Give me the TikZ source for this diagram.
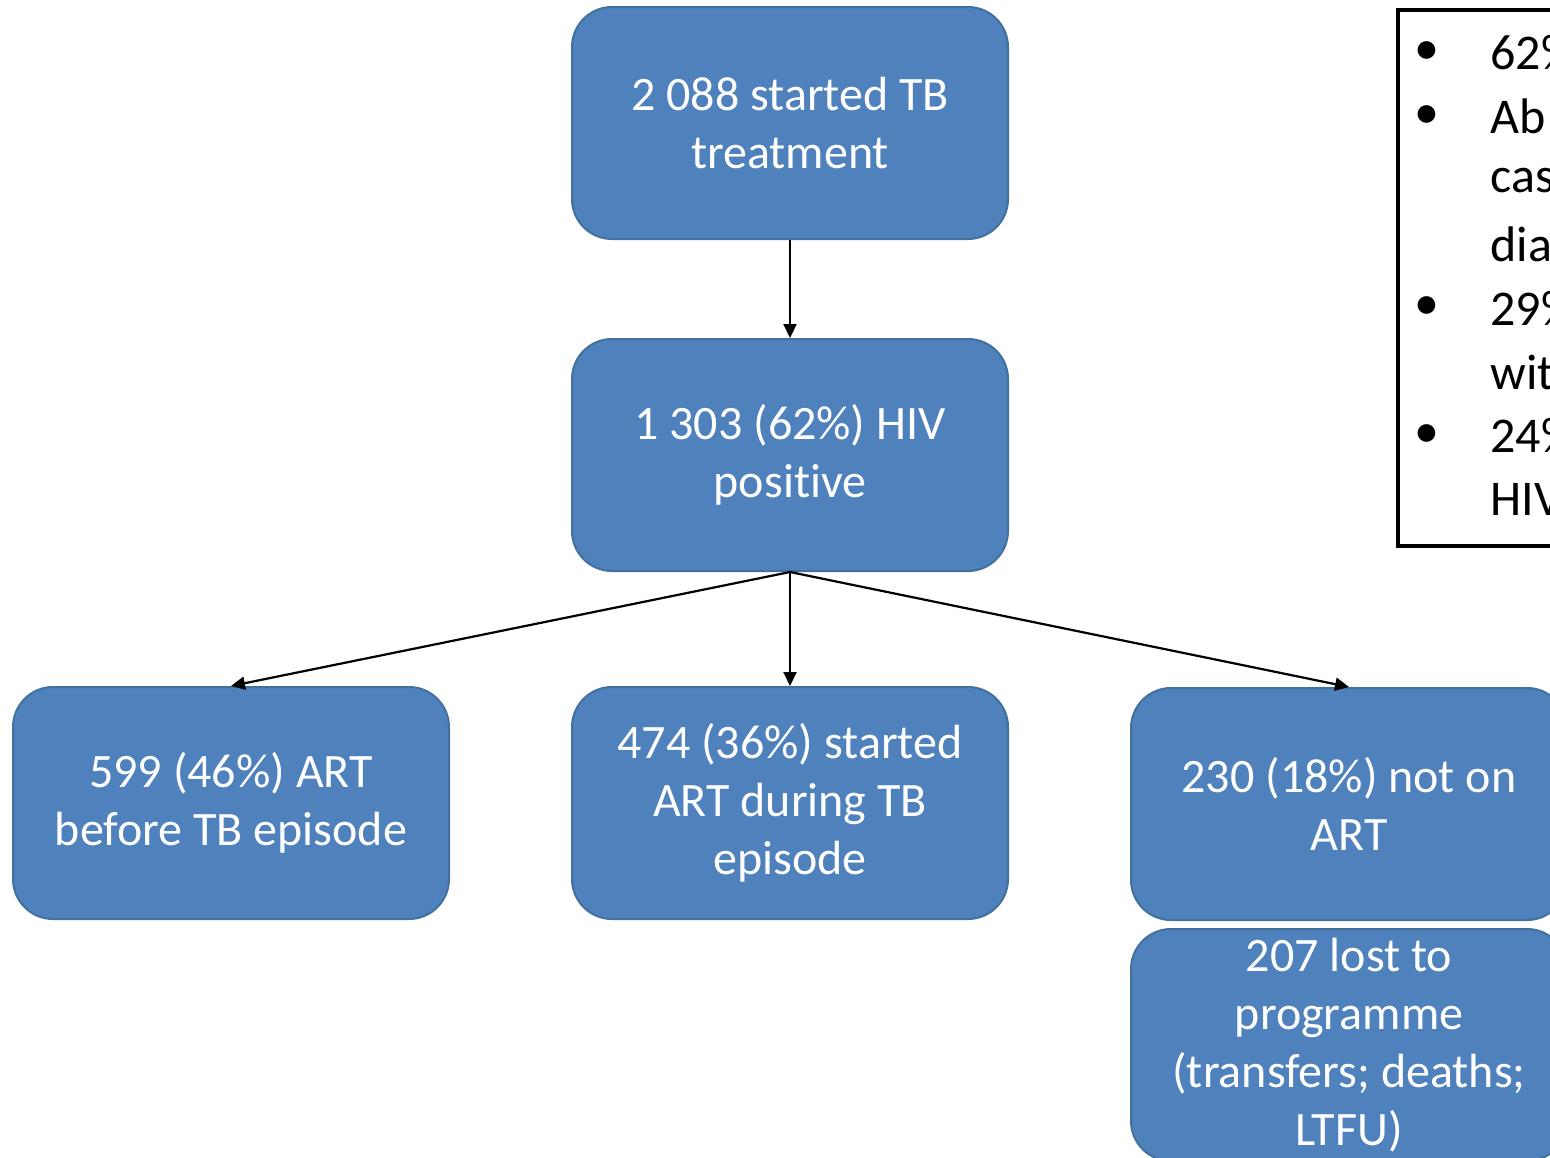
\documentclass[tikz,border=0pt]{standalone}
\usepackage{fontspec}
\setmainfont[Ligatures=NoCommon]{Carlito}
\usetikzlibrary{arrows.meta,positioning}

\definecolor{boxblue}{HTML}{4F81BD}
\definecolor{boxedge}{HTML}{41719C}

\tikzset{
    stage/.style={draw=boxedge, line width=1pt, fill=boxblue, rounded corners=20pt,
        minimum width=218pt, minimum height=116pt, inner sep=0pt,
        text=white, align=center, font=\fontsize{24}{29}\selectfont},
    flow/.style={line width=1.1pt, -{Triangle[length=7pt,width=6.5pt]}},
    noteline/.style={anchor=west, inner sep=0pt, font=\fontsize{25}{31}\selectfont},
    notedot/.style={inner sep=0pt, font=\fontsize{25}{31}\selectfont}
}

\begin{document}
\begin{tikzpicture}[x=0.5pt,y=-0.5pt]
    \useasboundingbox (0,0) rectangle (1550,1157);
    \clip (0,0) rectangle (1550,1157);

    % Flow boxes
    \node[stage] (start) at (790,123) {2 088 started TB\\treatment};
    \node[stage] (hiv) at (790,455) {1 303 (62\%) HIV\\positive};
    \node[stage] (before) at (231,803) {599 (46\%) ART\\before TB episode};
    \node[stage] (during) at (790,803) {474 (36\%) started\\ART during TB\\episode};
    \node[stage] (noart) at (1349,804) {230 (18\%) not on\\ART};
    \node[stage] (lost) at (1349,1045) {207 lost to\\programme\\(transfers; deaths;\\LTFU)};

    % Arrows
    \draw[flow] (start) -- (hiv);
    \draw[flow] (hiv.south) -- (before.north);
    \draw[flow] (hiv.south) -- (during.north);
    \draw[flow] (hiv.south) -- (noart.north);

    % Notes box
    \draw[line width=1.75pt] (1398,10) rectangle (1700,546);
    \foreach \txt [count=\i] in {62\%, Ab, cas, dia, 29\%, wit, 24\%, HIV}
        \node[noteline] (line\i) at (1490,{53+63.8*(\i-1)}) {\txt};
    \foreach \i in {1,2,5,7}
        \node[notedot] (dot\i) at (1427,{53+63.8*(\i-1)}) {•};
\end{tikzpicture}
\end{document}
